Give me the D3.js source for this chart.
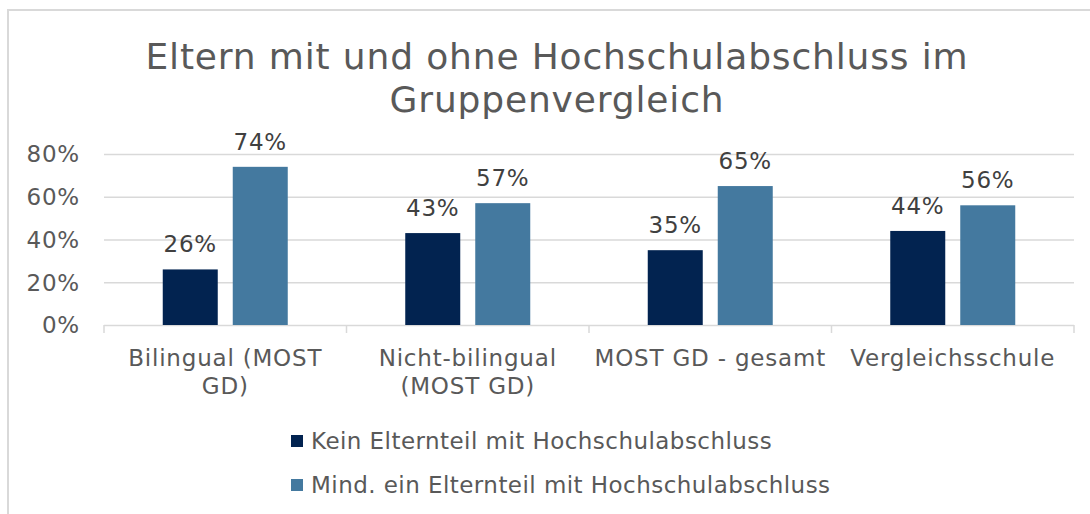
<!DOCTYPE html>
<html>
<head>
<meta charset="utf-8">
<script src="https://cdn.jsdelivr.net/npm/d3@7"></script>
<style>
  body { margin: 0; background: #fff; }
  svg text { font-family: "DejaVu Sans", Verdana, sans-serif; }
  .grid line { stroke: #d9d9d9; stroke-width: 1.5; }
  .grid .domain { display: none; }
</style>
</head>
<body>
<svg class="chart"></svg>
<script>
// chart values
var categories = ["Bilingual (MOST GD)", "Nicht-bilingual (MOST GD)", "MOST GD - gesamt", "Vergleichsschule"];
var seriesNames = ["Kein Elternteil mit Hochschulabschluss", "Mind. ein Elternteil mit Hochschulabschluss"];
var kein = [0.26, 0.43, 0.35, 0.44];
var mind = [0.74, 0.57, 0.65, 0.56];
var yTicks = [0, 0.2, 0.4, 0.6, 0.8];
var titleLines = ["Eltern mit und ohne Hochschulabschluss im", "Gruppenvergleich"];

var colors = ["#022350", "#44799f"];
var W = 1090, H = 514;
var plot = {left: 104, right: 1074, top: 154, bottom: 325};

var chart = d3.select('.chart').attr('width', W).attr('height', H);

// outer chart border
chart.append('rect')
  .attr('x', 8).attr('y', 10)
  .attr('width', W + 20).attr('height', H + 20)
  .attr('fill', '#fff')
  .attr('stroke', '#d9d9d9').attr('stroke-width', 2);

// title
chart.append('g').selectAll('text')
  .data(titleLines)
  .enter().append('text')
    .attr('x', 557)
    .attr('y', function(d, i) { return 69 + i * 43; })
    .attr('text-anchor', 'middle')
    .attr('font-size', 36)
    .attr('letter-spacing', 0.85)
    .attr('fill', '#595959')
    .text(function(d) { return d; });

var x0 = d3.scaleBand().domain(categories).range([plot.left, plot.right]),
    y = d3.scaleLinear().domain([0, 0.8]).range([plot.bottom, plot.top]);

var groupW = 125;
var x1 = d3.scaleBand().domain([0, 1])
  .range([(x0.bandwidth() - groupW) / 2, (x0.bandwidth() + groupW) / 2])
  .paddingInner(15 / 70);

// gridlines
chart.append('g')
  .attr('class', 'grid')
  .attr('transform', 'translate(' + plot.left + ',0)')
  .call(d3.axisLeft(y).tickValues(yTicks).tickSize(-(plot.right - plot.left)).tickFormat(''));

// y axis labels
chart.append('g').selectAll('text')
  .data(yTicks)
  .enter().append('text')
    .attr('x', 80)
    .attr('y', function(d) { return y(d); })
    .attr('dy', '0.36em')
    .attr('text-anchor', 'end')
    .attr('font-size', 23)
    .attr('letter-spacing', 0.8)
    .attr('fill', '#595959')
    .text(d3.format('.0%'));

// category tick marks
var tickPos = categories.map(function(c) { return x0(c); }).concat([plot.right]);
chart.append('g').selectAll('line')
  .data(tickPos)
  .enter().append('line')
    .attr('x1', function(d) { return d; }).attr('x2', function(d) { return d; })
    .attr('y1', plot.bottom).attr('y2', plot.bottom + 8)
    .attr('stroke', '#d9d9d9').attr('stroke-width', 1.5);

// bars
var data = [];
categories.forEach(function(c, i) {
  data.push({cat: c, s: 0, v: kein[i]});
  data.push({cat: c, s: 1, v: mind[i]});
});

chart.append('g').selectAll('.bar')
  .data(data)
  .enter().append('rect')
    .attr('class', 'bar')
    .attr('x', function(d) { return x0(d.cat) + x1(d.s); })
    .attr('y', function(d) { return y(d.v); })
    .attr('width', x1.bandwidth())
    .attr('height', function(d) { return plot.bottom - y(d.v); })
    .attr('fill', function(d) { return colors[d.s]; });

// data labels
chart.append('g').selectAll('text')
  .data(data)
  .enter().append('text')
    .attr('x', function(d) { return x0(d.cat) + x1(d.s) + x1.bandwidth() / 2; })
    .attr('y', function(d) { return y(d.v) - 17; })
    .attr('text-anchor', 'middle')
    .attr('font-size', 23)
    .attr('letter-spacing', 0.8)
    .attr('fill', '#404040')
    .text(function(d) { return d3.format('.0%')(d.v); });

// category labels, wrapped
var catLabels = chart.append('g').selectAll('text')
  .data(categories)
  .enter().append('text')
    .attr('x', function(d) { return x0(d) + x0.bandwidth() / 2; })
    .attr('y', 366)
    .attr('text-anchor', 'middle')
    .attr('font-size', 23)
    .attr('letter-spacing', 0.8)
    .attr('fill', '#595959');

catLabels.each(function(d) {
  var t = d3.select(this), words = d.split(' '), line = [], lines = [];
  var probe = t.append('tspan');
  words.forEach(function(w) {
    line.push(w);
    probe.text(line.join(' '));
    if (probe.node().getComputedTextLength() > 240 && line.length > 1) {
      line.pop();
      lines.push(line.join(' '));
      line = [w];
    }
  });
  lines.push(line.join(' '));
  probe.remove();
  lines.forEach(function(l, i) {
    t.append('tspan')
      .attr('x', t.attr('x'))
      .attr('dy', i ? 28 : 0)
      .text(l);
  });
});

// legend
var legend = chart.append('g').selectAll('g')
  .data(seriesNames)
  .enter().append('g')
    .attr('transform', function(d, i) { return 'translate(291,' + (435 + i * 44) + ')'; });

legend.append('rect')
  .attr('width', 12).attr('height', 12)
  .attr('fill', function(d, i) { return colors[i]; });

legend.append('text')
  .attr('x', 20).attr('y', 14)
  .attr('font-size', 23)
  .attr('letter-spacing', 0.45)
  .attr('fill', '#595959')
  .text(function(d) { return d; });
</script>
</body>
</html>
